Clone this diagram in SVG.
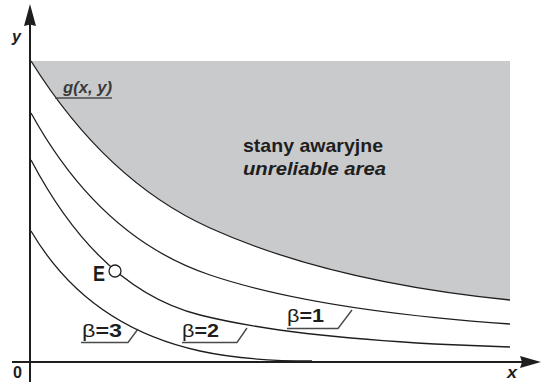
<svg xmlns="http://www.w3.org/2000/svg" width="544" height="382" viewBox="0 0 544 382">
<style>
.t{font-family:"Liberation Sans","Arial",sans-serif;font-weight:bold;fill:#1e1e1e}
.it{font-style:italic}
.crv{fill:none;stroke:#1e1e1e;stroke-width:1.3}
.axis{fill:none;stroke:#1e1e1e;stroke-width:2}
.ldr{fill:none;stroke:#4a4a4a;stroke-width:1.4}
.sym{font-weight:normal}
</style>
<rect width="544" height="382" fill="#ffffff"/>
<g id="unreliable-area">
<path d="M31,61 L510,61 L510,300 Q330,282 210,228 Q106,181 31,61 Z" fill="#c9cacc"/>
<text class="t" x="243" y="152" font-size="19" textLength="140" lengthAdjust="spacingAndGlyphs">stany awaryjne</text>
<text class="t it" x="243" y="175" font-size="19" textLength="143" lengthAdjust="spacingAndGlyphs">unreliable area</text>
</g>
<g id="connectors">
<path class="crv" d="M31,61 Q106,181 210,228 Q330,282 510,300"/>
<path class="crv" d="M31,113 Q100,238 210,275 Q315,310.3 510,324"/>
<path class="crv" d="M31,160 Q99.3,289.8 200,315 Q303,340.8 510,347"/>
<path class="crv" d="M31,231 Q87,326.2 200,351 Q245.5,361 312,361"/>
</g>
<g id="axes">
<line class="axis" x1="30" y1="22" x2="30" y2="382"/>
<path d="M30,4 L36,26 L30,24.5 L24,26 Z" fill="#1e1e1e"/>
<line class="axis" x1="12" y1="362" x2="524" y2="362"/>
<path d="M541,362 L520,368 L522,362 L520,356 Z" fill="#1e1e1e"/>
<text class="t it" x="12" y="42" font-size="17" textLength="9" lengthAdjust="spacingAndGlyphs">y</text>
<text class="t it" x="507" y="378" font-size="16" textLength="10" lengthAdjust="spacingAndGlyphs">x</text>
<text class="t" x="13" y="378" font-size="16" textLength="9" lengthAdjust="spacingAndGlyphs">0</text>
</g>
<g id="g-label">
<text class="t it" x="63" y="93" font-size="16" textLength="49" lengthAdjust="spacingAndGlyphs" style="fill:#3a3a3a">g(x, y)</text>
<line class="ldr" x1="55" y1="98" x2="112" y2="98"/>
</g>
<g id="point-E">
<circle cx="115" cy="271" r="6" fill="#ffffff" stroke="#1e1e1e" stroke-width="1.3"/>
<text class="t" x="93" y="281" font-size="22" textLength="12" lengthAdjust="spacingAndGlyphs">E</text>
</g>
<g id="beta-1">
<text class="t" x="287" y="322" font-size="19" textLength="37" lengthAdjust="spacingAndGlyphs"><tspan class="sym">β</tspan>=1</text>
<path class="ldr" d="M287,328.5 L338,328.5 L352,310"/>
</g>
<g id="beta-2">
<text class="t" x="182" y="337" font-size="19" textLength="37" lengthAdjust="spacingAndGlyphs"><tspan class="sym">β</tspan>=2</text>
<path class="ldr" d="M182,342.5 L237,342.5 L247,328"/>
</g>
<g id="beta-3">
<text class="t" x="82" y="337" font-size="19" textLength="40" lengthAdjust="spacingAndGlyphs"><tspan class="sym">β</tspan>=3</text>
<path class="ldr" d="M81,342.5 L128,342.5 L138,329"/>
</g>
</svg>
